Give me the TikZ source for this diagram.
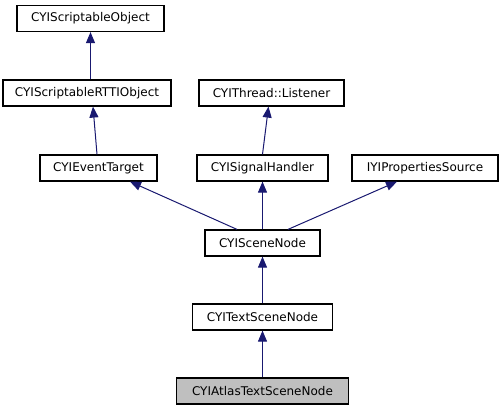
\documentclass[tikz,border=0pt]{standalone}
\usepackage{fontspec}
\setmainfont{DejaVu Sans}
\usepackage{tikz}
\usetikzlibrary{arrows.meta}
\definecolor{edgeblue}{RGB}{25,25,112}
\definecolor{curgray}{RGB}{191,191,191}
\tikzset{
  cls/.style = {draw, line width = 1.2pt, fill = white, minimum height = 26pt, inner sep = 0pt, font = \fontsize{12}{14}\selectfont},
  inh/.style = {draw = edgeblue, line width = 1pt, -{Triangle[length = 11pt, width = 9pt]}}
}

\begin{document}
\begin{tikzpicture}[x = 1pt, y = -1pt]
\useasboundingbox (0,0) rectangle (503,411);
\node[cls, minimum width = 147pt] (so) at (90.5,18.5) {CYIScriptableObject};
\node[cls, minimum width = 168pt] (rtti) at (87,93) {CYIScriptableRTTIObject};
\node[cls, minimum width = 145pt] (lis) at (271.5,93) {CYIThread::Listener};
\node[cls, minimum width = 117pt] (evt) at (98.5,168) {CYIEventTarget};
\node[cls, minimum width = 131pt] (sig) at (262.5,168) {CYISignalHandler};
\node[cls, minimum width = 146pt] (props) at (425,168) {IYIPropertiesSource};
\node[cls, minimum width = 115pt] (scene) at (262.5,243) {CYISceneNode};
\node[cls, minimum width = 140pt] (text) at (262.5,317) {CYITextSceneNode};
\node[cls, minimum width = 172pt, fill = curgray] (atlas) at (262.5,391) {CYIAtlasTextSceneNode};

\draw[inh] ([xshift = 3.5pt]rtti.north) -- (so.south);
\draw[inh] ([xshift = -1.5pt]evt.north) -- ([xshift = 6pt]rtti.south);
\draw[inh] (sig.north) -- ([xshift = -3pt]lis.south);
\draw[inh] ([xshift = -25.5pt]scene.north) -- ([xshift = 31.5pt]evt.south);
\draw[inh] (scene.north) -- (sig.south);
\draw[inh] ([xshift = 25.5pt]scene.north) -- ([xshift = -28pt]props.south);
\draw[inh] (text.north) -- (scene.south);
\draw[inh] (atlas.north) -- (text.south);
\end{tikzpicture}
\end{document}
